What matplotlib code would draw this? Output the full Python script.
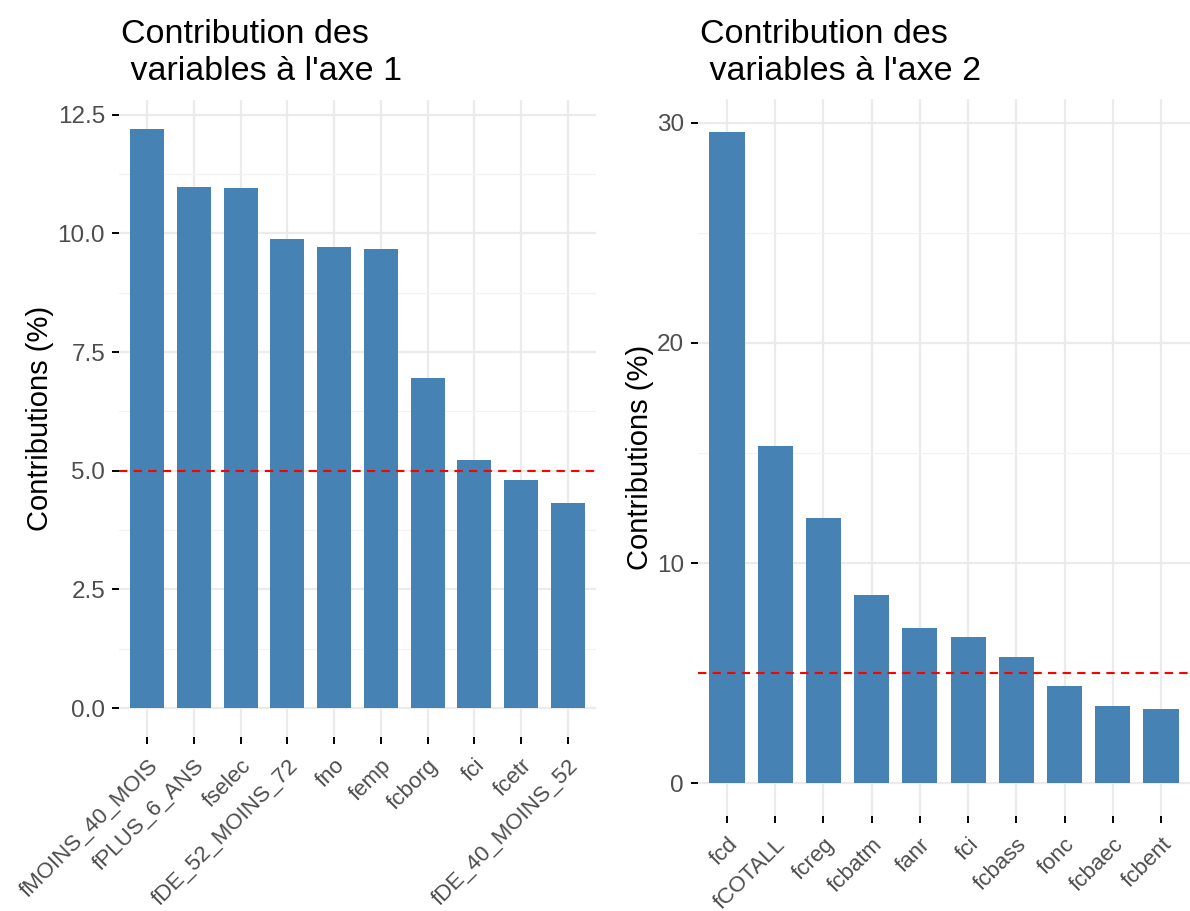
import numpy as np
import matplotlib
matplotlib.use("Agg")
import matplotlib.pyplot as plt
from matplotlib.ticker import MultipleLocator, FormatStrFormatter

plt.rcParams['font.family'] = ['Liberation Sans', 'DejaVu Sans']

# contributions axe 1
noms1 = ["fMOINS_40_MOIS", "fPLUS_6_ANS", "fselec", "fDE_52_MOINS_72", "fno",
         "femp", "fcborg", "fci", "fcetr", "fDE_40_MOINS_52"]
contrib1 = [12.20, 10.98, 10.96, 9.89, 9.72, 9.68, 6.96, 5.23, 4.81, 4.32]

# contributions axe 2
noms2 = ["fcd", "fCOTALL", "fcreg", "fcbatm", "fanr", "fci", "fcbass",
         "fonc", "fcbaec", "fcbent"]
contrib2 = [29.59, 15.32, 12.05, 8.55, 7.05, 6.64, 5.73, 4.41, 3.50, 3.36]

seuil = 5.0
W, H = 1190, 911
fig = plt.figure(figsize=(W / 100, H / 100), dpi=100)


def panneau(rect, noms, vals, titre, major, minor, fmt):
    x0, y0, x1, y1 = rect
    ax = fig.add_axes([x0 / W, 1 - y1 / H, (x1 - x0) / W, (y1 - y0) / H])
    pos = np.arange(len(noms))
    ax.bar(pos, vals, width=0.73, color="#4682B4", zorder=3)
    ax.axhline(seuil, color="red", linestyle=(0, (4, 3)), linewidth=1.5, zorder=4)
    ax.set_xlim(-0.6, len(noms) - 0.4)
    top = max(vals)
    ax.set_ylim(-0.05 * top, top * 1.05)
    ax.yaxis.set_major_locator(MultipleLocator(major))
    ax.yaxis.set_minor_locator(MultipleLocator(minor))
    ax.yaxis.set_major_formatter(FormatStrFormatter(fmt))
    ax.set_xticks(pos)
    ax.set_xticklabels(noms, rotation=45, ha="right", va="top",
                       rotation_mode="anchor", fontsize=16)
    ax.grid(which="major", color="#EBEBEB", linewidth=1.6, zorder=0)
    ax.grid(which="minor", axis="y", color="#F2F2F2", linewidth=0.9, zorder=0)
    for s in ax.spines.values():
        s.set_visible(False)
    ax.tick_params(which="major", length=5, width=1.4, color="black",
                   labelcolor="#4D4D4D")
    ax.tick_params(axis="y", pad=5, labelsize=17.5)
    ax.tick_params(axis="x", pad=8)
    ax.tick_params(which="minor", length=0)
    ax.set_ylabel("Contributions (%)", fontsize=21, color="black", labelpad=2.5)
    fig.text((x0 + 2) / W, 1 - 80 / H, titre, ha="left", va="baseline",
             fontsize=24.5, linespacing=1.25)
    return ax


panneau((119, 100, 596, 737), noms1, contrib1,
        "Contribution des\n variables à l'axe 1", 2.5, 1.25, "%.1f")
panneau((698, 99, 1190, 816), noms2, contrib2,
        "Contribution des\n variables à l'axe 2", 10, 5, "%.0f")

fig.savefig("out.png", dpi=100)
